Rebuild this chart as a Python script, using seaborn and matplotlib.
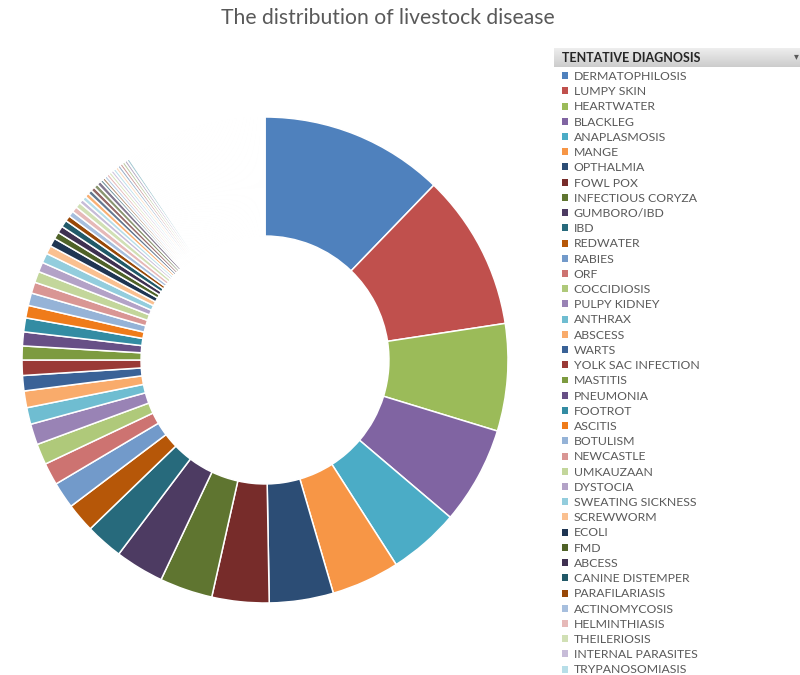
import numpy as np
import matplotlib
matplotlib.use("Agg")
import matplotlib.pyplot as plt
import matplotlib.colors as mcolors
import seaborn as sns

# Case counts per tentative diagnosis (sorted, largest first)
diagnoses = [
    "DERMATOPHILOSIS", "LUMPY SKIN", "HEARTWATER", "BLACKLEG", "ANAPLASMOSIS",
    "MANGE", "OPTHALMIA", "FOWL POX", "INFECTIOUS CORYZA", "GUMBORO/IBD",
    "IBD", "REDWATER", "RABIES", "ORF", "COCCIDIOSIS",
    "PULPY KIDNEY", "ANTHRAX", "ABSCESS", "WARTS", "YOLK SAC INFECTION",
    "MASTITIS", "PNEUMONIA", "FOOTROT", "ASCITIS", "BOTULISM",
    "NEWCASTLE", "UMKAUZAAN", "DYSTOCIA", "SWEATING SICKNESS", "SCREWWORM",
    "ECOLI", "FMD", "ABCESS", "CANINE DISTEMPER", "PARAFILARIASIS",
    "ACTINOMYCOSIS", "HELMINTHIASIS", "THEILERIOSIS", "INTERNAL PARASITES",
    "TRYPANOSOMIASIS",
]
cases = [
    132, 112, 77, 70, 51, 49, 46, 41, 38, 35,
    27, 21, 19, 16, 15, 15, 12, 12, 11, 11,
    10, 10, 10, 9, 9, 8, 8, 7, 7, 6,
    6, 5, 5, 5, 4, 4, 4, 4, 3, 3,
]
# remaining diagnoses further down the (scrolled) legend list
other_cases = [
    3, 3, 3, 3, 3, 2, 2, 2, 2, 2, 2, 2, 2, 2, 2, 2, 2, 2,
    1, 1, 1, 1, 1, 1, 1, 1, 1, 1, 1, 1, 1, 1, 1, 1, 1,
    1, 1, 1, 1, 1, 1, 1, 1, 1, 1, 1, 1, 1, 1, 1, 1, 1,
    1, 1, 1, 1, 1, 1, 1, 1, 1, 1, 1, 1, 1, 1, 1, 1, 1,
    1, 1, 1, 1, 1, 1, 1, 1, 1, 1, 1, 1, 1, 1, 1, 1, 1,
    1, 1, 1, 1, 1, 1, 1, 1, 1, 1, 1, 1, 1, 1, 1, 1, 1,
    1, 1, 1, 1, 1, 1, 1, 1, 1, 1, 1, 1, 1, 1, 1, 1, 1,
]
title = "The distribution of livestock disease"
legend_title = "TENTATIVE DIAGNOSIS"

# Office-style colour cycle with shade variations
named_colors = [
    "#4F81BD", "#C0504D", "#9BBB59", "#8064A2", "#4BACC6", "#F79646",
    "#2C4D75", "#772C2A", "#5F7530", "#4D3B62", "#276A7C", "#B65708",
    "#729ACA", "#CD7371", "#AFC97A", "#9983B5", "#6FBDD1", "#F9AB6B",
    "#3A6297", "#9A3A37", "#7D9B40", "#674F86", "#338CA3", "#EF7B1A",
    "#95B3D7", "#D99694", "#C3D69B", "#B3A2C7", "#93CDDD", "#FAC090",
    "#1F3552", "#4F6228", "#3F3151", "#215968", "#984807",
    "#A7BFDE", "#E6B9B8", "#D1E0B5", "#C7BCD8", "#B7DEE8",
]
accents = ["#4F81BD", "#C0504D", "#9BBB59", "#8064A2", "#4BACC6", "#F79646"]
shade = [0.0, -0.45, 0.35, -0.2, 0.55, 0.2]


def adjust(hex_color, f):
    rgb = np.array(mcolors.to_rgb(hex_color))
    if f >= 0:
        return tuple(rgb + (1 - rgb) * f)
    return tuple(rgb * (1 + f))


tail_colors = []
for i in range(len(other_cases)):
    base = adjust(accents[(i + 5) % 6], shade[((i + 5) // 6) % 6])
    fade = min(0.25 + 0.018 * i, 0.97)
    tail_colors.append(adjust(mcolors.to_hex(base), fade))

sns.set_theme(style="white")
plt.rcParams["font.family"] = ["Lato", "DejaVu Sans"]

W, H = 800, 675
fig = plt.figure(figsize=(W / 100, H / 100), dpi=100)
fig.patch.set_facecolor("white")

# donut axes: centre (265, 360) px, outer radius 243 px
cx, cy, R = 265, 360, 243
ax = fig.add_axes([(cx - R) / W, (H - cy - R) / H, 2 * R / W, 2 * R / H])
wedges, _ = ax.pie(
    cases + other_cases,
    colors=named_colors + tail_colors,
    startangle=90,
    counterclock=False,
    radius=1.0,
    wedgeprops=dict(width=0.49, edgecolor="white", linewidth=1.1),
)
ax.set_xlim(-1, 1)
ax.set_ylim(-1, 1)
ax.set_aspect("equal")
ax.axis("off")

fig.text(388 / W, 1 - 18 / H, title, ha="center", va="center",
         fontsize=15.2, color="#595959")

# legend header bar
hx0, hy0, hw, hh = 554, 48, 246, 19
hax = fig.add_axes([hx0 / W, 1 - (hy0 + hh) / H, hw / W, hh / H])
grad = np.linspace(0.93, 0.80, 50).reshape(-1, 1)
hax.imshow(grad, aspect="auto", cmap="gray", vmin=0, vmax=1,
           extent=[0, 1, 0, 1])
hax.set_xlim(0, 1)
hax.set_ylim(0, 1)
hax.axis("off")
hax.text(8 / hw, 0.5, legend_title, ha="left", va="center",
         fontsize=9.0, fontweight="bold", color="#262626")
hax.text(0.985, 0.55, "\u25be", ha="center", va="center",
         fontsize=7, color="#595959", family="DejaVu Sans")

leg = fig.legend(
    wedges[:len(diagnoses)], diagnoses,
    loc="upper left",
    bbox_to_anchor=(562 / W, 1 - 71 / H),
    bbox_transform=fig.transFigure,
    frameon=False,
    fontsize=8.8,
    handlelength=0.5,
    handleheight=0.5,
    handletextpad=0.45,
    labelspacing=0.345,
    borderpad=0.0,
    borderaxespad=0.0,
)
for t in leg.get_texts():
    t.set_color("#595959")
for hnd in leg.legend_handles:
    hnd.set_linewidth(0)

fig.savefig("out.png", dpi=100, facecolor="white")
